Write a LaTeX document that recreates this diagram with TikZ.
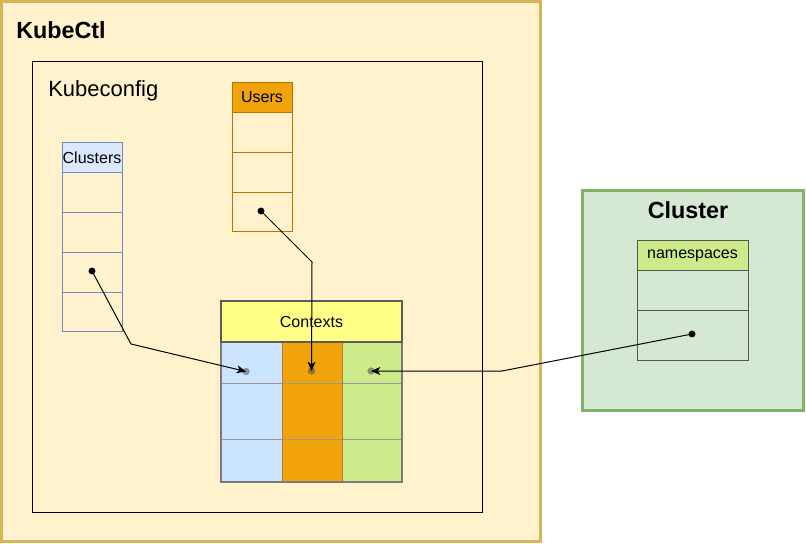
\documentclass[tikz,border=0pt]{standalone}
\usepackage{fontspec}
\setmainfont{Liberation Sans}
\usetikzlibrary{arrows.meta}
\definecolor{kfill}{HTML}{FFF2CC}
\definecolor{kdraw}{HTML}{D6B656}
\definecolor{cfill}{HTML}{D5E8D4}
\definecolor{cdraw}{HTML}{82B366}
\definecolor{bluef}{HTML}{DAE8FC}
\definecolor{blued}{HTML}{6C8EBF}
\definecolor{orangef}{HTML}{F0A30A}
\definecolor{oranged}{HTML}{BD7000}
\definecolor{yellowf}{HTML}{FFFF88}
\definecolor{ctxblue}{HTML}{CCE5FF}
\definecolor{greenf}{HTML}{CDEB8B}
\definecolor{grayline}{HTML}{999999}
\definecolor{darkline}{HTML}{555555}
\newcommand\bx[6]{\node[#1, minimum width={(#4-#2)*0.75pt}, minimum height={(#5-#3)*0.75pt}, anchor=north west] (#6) at (#2,#3) {};}
\tikzset{
  box/.style={rectangle, inner sep=0pt, outer sep=0pt},
  dotc/.style={circle, fill=black, inner sep=0pt, minimum size=5.2pt},
  tdot/.style={circle, fill=black!70, fill opacity=0.55, inner sep=0pt, minimum size=5.5pt},
  conn/.style={draw=black, line width=0.75pt, -{Stealth[length=7pt,width=6pt,inset=2pt]}},
  hdr/.style={inner sep=0pt, font=\fontsize{12}{14}\selectfont},
}
\begin{document}
\begin{tikzpicture}[x=0.75pt,y=-0.75pt]
\useasboundingbox (0,0) rectangle (806,543);
\fill[white] (0,0) rectangle (806,543);
% KubeCtl
\bx{box, fill=kfill, draw=kdraw, line width=2.25pt}{1.5}{1.5}{540}{541.5}{kubectl}
\node[anchor=west, inner sep=0pt, font=\fontsize{17.5}{20}\selectfont\bfseries] (kubectlt) at (16,30) {KubeCtl};
% Kubeconfig
\bx{box, draw=black, line width=0.75pt}{32}{61}{482}{512}{kubeconfig}
\node[anchor=west, inner sep=0pt, font=\fontsize{16.5}{19}\selectfont] (kubeconfigt) at (48,91) {Kubeconfig};
% Clusters table
\bx{box, fill=bluef, draw=blued, line width=0.75pt}{62}{142}{122}{172}{clh}
\node[hdr] (clht) at (92,157.5) {Clusters};
\bx{box, draw=blued, line width=0.75pt}{62}{172}{122}{212}{cl1}
\bx{box, draw=blued, line width=0.75pt}{62}{212}{122}{252}{cl2}
\bx{box, draw=blued, line width=0.75pt}{62}{252}{122}{292}{cl3}
\bx{box, draw=blued, line width=0.75pt}{62}{292}{122}{331}{cl4}
% Users table
\bx{box, fill=orangef, draw=oranged, line width=0.75pt}{232}{82}{292}{112}{ush}
\node[hdr] (usht) at (262,97.5) {Users};
\bx{box, draw=oranged, line width=0.75pt}{232}{112}{292}{152}{us1}
\bx{box, draw=oranged, line width=0.75pt}{232}{152}{292}{192}{us2}
\bx{box, draw=oranged, line width=0.75pt}{232}{192}{292}{231}{us3}
% Contexts table
\bx{box, fill=ctxblue}{221}{342}{282}{482}{ctxa}
\bx{box, fill=orangef}{282}{342}{342}{482}{ctxb}
\bx{box, fill=greenf}{342}{342}{402}{482}{ctxc}
\draw[grayline, line width=0.75pt] (221,383) -- (402,383) (221,439) -- (402,439);
\draw[oranged!70!grayline, line width=0.75pt] (282,342) -- (282,482) (342,342) -- (342,482);
\bx{box, draw=grayline!80!black, line width=1.5pt}{221}{342}{402}{482}{ctxbody}
\bx{box, fill=yellowf, draw=grayline!60!black, line width=1.5pt}{221}{301}{402}{342}{ctxh}
\node[hdr] (ctxht) at (311.5,322) {Contexts};
% Cluster
\bx{box, fill=cfill, draw=cdraw, line width=2.25pt}{582}{190}{803}{410}{cluster}
\node[inner sep=0pt, font=\fontsize{17.5}{20}\selectfont\bfseries] (clustert) at (688,210) {Cluster};
\bx{box, fill=greenf, draw=darkline, line width=0.75pt}{637}{240}{748}{270}{nsh}
\node[hdr] (nsht) at (692.5,256) {namespaces};
\bx{box, draw=darkline, line width=0.75pt}{637}{270}{748}{310}{ns1}
\bx{box, draw=darkline, line width=0.75pt}{637}{310}{748}{360}{ns2}
% dots
\node[dotc] (d1) at (92,271) {};
\node[dotc] (d2) at (261,211) {};
\node[dotc] (d3) at (692,334) {};
\node[tdot] (t1) at (246,371.5) {};
\node[tdot] (t2) at (311.5,371) {};
\node[tdot] (t3) at (371,371) {};
\coordinate (b1) at (131,344);
\coordinate (b2) at (312,262);
\coordinate (b3) at (502,371);
% connectors
\draw[conn] (d1.center) -- (b1) -- (t1.center);
\draw[conn] (d2.center) -- (b2) -- (t2.center);
\draw[conn] (d3.center) -- (b3) -- (t3.center);
\end{tikzpicture}
\end{document}
